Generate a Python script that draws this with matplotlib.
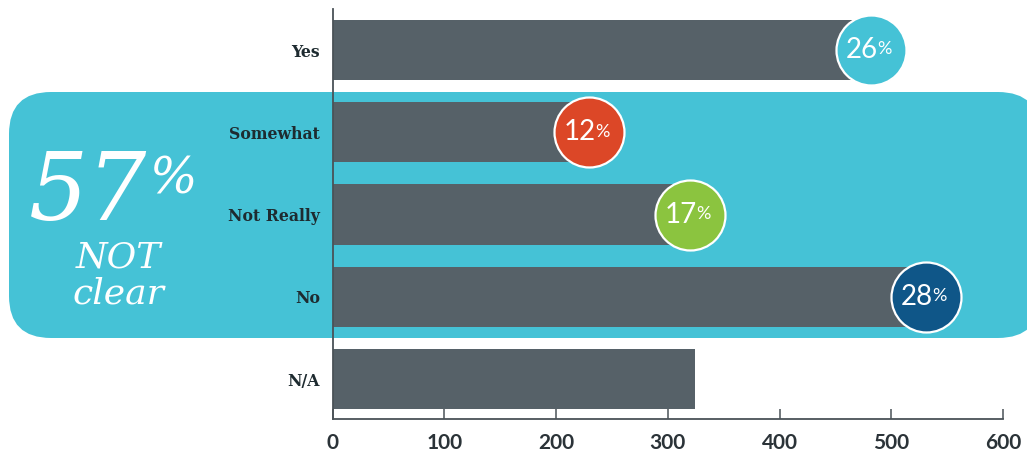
import matplotlib
matplotlib.use("Agg")
import matplotlib.pyplot as plt
from matplotlib.patches import FancyBboxPatch
from matplotlib.transforms import IdentityTransform

# Survey responses (counts) and share of all responses
categories = ["Yes", "Somewhat", "Not Really", "No", "N/A"]
counts = [482, 229, 320, 531, 324]
shares = [26, 12, 17, 28, None]
badge_colors = ["#45C2D6", "#DC4727", "#8BC43F", "#0F5688", None]
x_ticks = [0, 100, 200, 300, 400, 500, 600]

BAR = "#566168"
TEAL = "#45C2D6"
INK = "#1E2B30"

fig = plt.figure(figsize=(10.27, 4.57), dpi=100)
W, H = 1027, 457

# Rounded highlight panel grouping the "not clear" answers (pixel units)
panel = FancyBboxPatch((9, H - 338), 1040 - 9, 338 - 92,
                       boxstyle="round,pad=0,rounding_size=42",
                       transform=IdentityTransform(), facecolor=TEAL,
                       edgecolor="none", zorder=-5)
fig.patches.append(panel)

ax = fig.add_axes([332.7 / W, 1 - 419 / H, (1003 - 332.7) / W, (419 - 9) / H])
ax.set_zorder(2)
ax.patch.set_alpha(0)

y = list(range(len(categories)))
ax.barh(y, counts, height=0.73, color=BAR, zorder=2)
ax.set_xlim(0, 600)
ax.set_ylim(4.486, -0.4985)

for sp in ["top", "right"]:
    ax.spines[sp].set_visible(False)
for sp in ["left", "bottom"]:
    ax.spines[sp].set_color("#4A5257")
    ax.spines[sp].set_linewidth(1.3)

ax.set_xticks(x_ticks)
ax.set_xticklabels([str(t) for t in x_ticks], fontfamily="Lato",
                   fontweight="bold", fontsize=15, color="#2B3338")
ax.tick_params(axis="x", direction="in", length=7.5, width=1.1,
               color="#4A5257", pad=10)
ax.set_yticks(y)
ax.set_yticklabels(categories, fontfamily="DejaVu Serif", fontweight="bold",
                   fontsize=11.3, color=INK)
ax.tick_params(axis="y", length=0, pad=9)

# Percentage badges at the end of each bar
for yi, c, s, col in zip(y, counts, shares, badge_colors):
    if s is None:
        continue
    ax.scatter([c], [yi], s=2540, color=col, edgecolors="white",
               linewidths=1.6, zorder=4, clip_on=False)
    ax.annotate(str(s), (c, yi), xytext=(5, 0), textcoords="offset points",
                ha="right", va="center", fontfamily="Lato", fontsize=20,
                color="white", zorder=5)
    ax.annotate("%", (c, yi), xytext=(4.5, 0.5), textcoords="offset points",
                ha="left", va="center", fontfamily="Lato", fontsize=13,
                color="white", zorder=5)

# Headline figure on the panel
fig.text(147 / W, 1 - 194 / H, "57", fontfamily="DejaVu Serif", style="italic",
         fontsize=67, color="white", ha="right", va="center")
fig.text(149 / W, 1 - 180 / H, "%", fontfamily="DejaVu Serif", style="italic",
         fontsize=36, color="white", ha="left", va="center")
fig.text(118 / W, 1 - 258 / H, "NOT", fontfamily="DejaVu Serif", style="italic",
         fontsize=26, color="white", ha="center", va="center")
fig.text(118 / W, 1 - 294 / H, "clear", fontfamily="DejaVu Serif", style="italic",
         fontsize=26, color="white", ha="center", va="center")

fig.savefig("out.png", dpi=100)
